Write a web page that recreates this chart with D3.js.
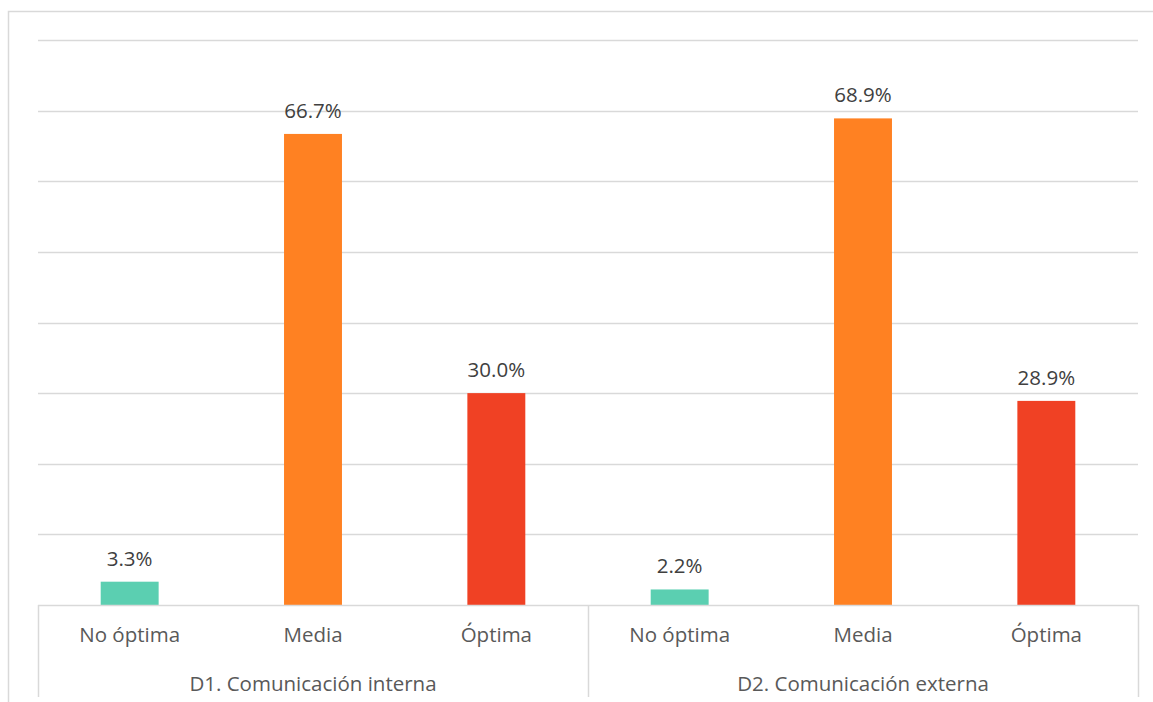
<!DOCTYPE html>
<html>
<head>
<meta charset="utf-8">
<script src="https://cdn.jsdelivr.net/npm/d3@7"></script>
<style>
  html, body { margin: 0; padding: 0; background: #ffffff; }
  svg { display: block; }
</style>
</head>
<body>
<svg id="chart" width="1153" height="702"></svg>
<script>
const groups = ["D1. Comunicación interna", "D2. Comunicación externa"];
const categories = ["No óptima", "Media", "Óptima"];
const values = [
  [3.3, 66.7, 30.0],
  [2.2, 68.9, 28.9]
];
const colors = ["#5BCFB1", "#FF8122", "#F04124"];
const yTicks = [0, 10, 20, 30, 40, 50, 60, 70, 80];

(function () {
const svg = d3.select("#chart");
const plotLeft = 38, plotRight = 1138, plotTop = 40, base = 605;
const font = "'Open Sans', sans-serif";
const textColor = "#595959";
const gridColor = "#d9d9d9";

// outer border
svg.append("rect").attr("x", 8.5).attr("y", 11.5).attr("width", 1160).attr("height", 720)
  .attr("fill", "none").attr("stroke", gridColor).attr("stroke-width", 1.5);

const y = d3.scaleLinear().domain([0, 80]).range([base, plotTop]);
const xGroup = d3.scaleBand().domain(groups).range([plotLeft, plotRight]).padding(0);
const xCat = d3.scaleBand().domain(categories).range([0, xGroup.bandwidth()]).paddingInner(0.684).paddingOuter(0.342);

// gridlines
svg.append("g").selectAll("line").data(yTicks.filter(t => t > 0)).join("line")
  .attr("x1", plotLeft).attr("x2", plotRight)
  .attr("y1", d => Math.round(y(d)) + 0.5).attr("y2", d => Math.round(y(d)) + 0.5)
  .attr("stroke", gridColor).attr("stroke-width", 1.5);

// bars
const g = svg.append("g").selectAll("g").data(groups).join("g")
  .attr("transform", d => `translate(${xGroup(d)},0)`);

g.each(function(grp, gi) {
  const sel = d3.select(this);
  const data = categories.map((c, ci) => ({c, ci, v: values[gi][ci]}));
  sel.selectAll("rect").data(data).join("rect")
    .attr("x", d => xCat(d.c))
    .attr("width", xCat.bandwidth())
    .attr("y", d => y(d.v))
    .attr("height", d => base - y(d.v))
    .attr("fill", d => colors[d.ci]);
  sel.selectAll("text.val").data(data).join("text").attr("class", "val")
    .attr("x", d => xCat(d.c) + xCat.bandwidth() / 2)
    .attr("y", d => y(d.v) - 16)
    .attr("text-anchor", "middle")
    .attr("font-family", font).attr("font-size", 20.5).attr("fill", "#404040")
    .text(d => d.v.toFixed(1) + "%");
  sel.selectAll("text.cat").data(data).join("text").attr("class", "cat")
    .attr("x", d => xCat(d.c) + xCat.bandwidth() / 2)
    .attr("y", 642)
    .attr("text-anchor", "middle")
    .attr("font-family", font).attr("font-size", 20.5).attr("fill", textColor)
    .text(d => d.c);
  sel.append("text")
    .attr("x", xGroup.bandwidth() / 2)
    .attr("y", 691)
    .attr("text-anchor", "middle")
    .attr("font-family", font).attr("font-size", 20.5).attr("fill", textColor)
    .text(grp);
});

// baseline and axis separators
svg.append("line").attr("x1", plotLeft).attr("x2", plotRight).attr("y1", base + 0.5).attr("y2", base + 0.5)
  .attr("stroke", gridColor).attr("stroke-width", 1.5);
const seps = [plotLeft, xGroup(groups[1]), plotRight];
svg.append("g").selectAll("line").data(seps).join("line")
  .attr("x1", d => d + 0.5).attr("x2", d => d + 0.5)
  .attr("y1", base).attr("y2", 697)
  .attr("stroke", gridColor).attr("stroke-width", 1.5);
})();
</script>
</body>
</html>
